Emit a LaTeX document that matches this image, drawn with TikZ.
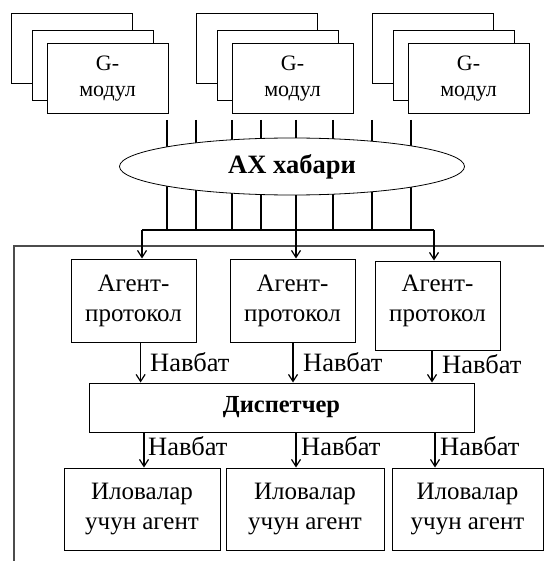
\documentclass[tikz,border=0pt]{standalone}
\usepackage{fontspec}
\setmainfont{Liberation Serif}
\usetikzlibrary{arrows.meta,shapes.geometric}
\begin{document}
\begin{tikzpicture}[x=1pt,y=-1pt,
  box/.style={draw, line width=1pt, fill=white, inner sep=0pt, align=center,
    font=\fontsize{25}{30}\selectfont},
  plain/.style={inner sep=0pt, align=center, font=\fontsize{25}{30}\selectfont},
  modbox/.style={draw, line width=1pt, fill=white, inner sep=0pt, align=center,
    minimum width=121pt, minimum height=70pt, font=\fontsize{22}{26}\selectfont},
  lbl/.style={anchor=west, inner sep=0pt, font=\fontsize{26.5}{30}\selectfont},
  arr/.style={line width=1.2pt, -{Straight Barb[length=7pt,width=9pt,line width=1.2pt]}},
  thinbus/.style={line width=1.6pt},
  thickbus/.style={line width=2.5pt},
  outer/.style={line width=1.3pt, draw=black!70}
]
\useasboundingbox (0,0) rectangle (544,561);

% G-module stacks
\foreach \i/\x in {1/11.5, 2/196.5, 3/372.5}{
  \node[modbox] (back\i) at (\x+60.5, 49) {};
  \node[modbox] (mid\i) at (\x+81, 66) {};
  \node[modbox] (front\i) at (\x+96, 79) {G-\\модул};
}

% outer frame
\coordinate (fbl) at (14,561);
\coordinate (ftl) at (14,246);
\coordinate (ftr) at (544,246);
\draw[outer] (fbl) -- (ftl) -- (ftr);

% bus lines
\coordinate (busl) at (142,230);
\coordinate (busm) at (296,230);
\coordinate (busr) at (434,230);
\foreach \n/\x/\s in {1/167/thinbus, 2/196/thickbus, 3/232/thinbus, 4/261/thickbus,
                      5/296/thinbus, 6/333/thinbus, 7/372/thinbus, 8/411/thickbus}{
  \coordinate (vt\n) at (\x,120);
  \draw[\s] (vt\n) -- (vt\n |- busl);
}
\draw[line width=2pt] (busl) -- (busr);

% AX ellipse
\node[ellipse, draw, line width=0.8pt, fill=white, minimum width=345pt,
  minimum height=57pt, inner sep=0pt, font=\fontsize{26.5}{30}\selectfont\bfseries]
  (ax) at (292,166.5) {AX хабари};

% agent-protocol boxes
\node[box, minimum width=125pt, minimum height=83pt] (ap1) at (133.5,300.5) {Агент-\\протокол};
\node[box, minimum width=125pt, minimum height=83pt] (ap2) at (292.5,300.5) {Агент-\\протокол};
\node[box, minimum width=125pt, minimum height=89pt] (ap3) at (437.5,305.5) {};
\node[plain] (ap3t) at (437.5,300.5) {Агент-\\протокол};

\draw[arr] (busl) -- (busl |- ap1.north);
\draw[arr] (busm) -- (busm |- ap2.north);
\draw[arr] (busr) -- (busr |- ap3.north);

% dispatcher
\node[draw, line width=1pt, fill=white, inner sep=0pt, minimum width=385pt,
  minimum height=49pt, font=\fontsize{24.5}{30}\selectfont\bfseries]
  (disp) at (281.5,407.5) {Диспетчер};

\coordinate (q1) at (140.6,0);
\coordinate (q2) at (293,0);
\coordinate (q3) at (432,0);
\draw[arr] (q1 |- ap1.south) -- (q1 |- disp.north);
\draw[arr] (q2 |- ap2.south) -- (q2 |- disp.north);
\draw[arr] (q3 |- ap3.south) -- (q3 |- disp.north);
\node[lbl] (n1) at (150,362) {Навбат};
\node[lbl] (n2) at (303,362) {Навбат};
\node[lbl] (n3) at (442,364) {Навбат};

% worker agents
\node[box, minimum width=156pt, minimum height=82pt] (w1) at (142,509) {Иловалар\\учун агент};
\node[box, minimum width=158pt, minimum height=82pt] (w2) at (305,509) {Иловалар\\учун агент};
\node[box, minimum width=151pt, minimum height=82pt] (w3) at (467.5,509) {Иловалар\\учун агент};

\coordinate (r1) at (144,0);
\coordinate (r2) at (296,0);
\coordinate (r3) at (435,0);
\draw[arr] (r1 |- disp.south) -- (r1 |- w1.north);
\draw[arr] (r2 |- disp.south) -- (r2 |- w2.north);
\draw[arr] (r3 |- disp.south) -- (r3 |- w3.north);
\node[lbl] (m1) at (148,446) {Навбат};
\node[lbl] (m2) at (301,446) {Навбат};
\node[lbl] (m3) at (440,446) {Навбат};
\end{tikzpicture}
\end{document}
